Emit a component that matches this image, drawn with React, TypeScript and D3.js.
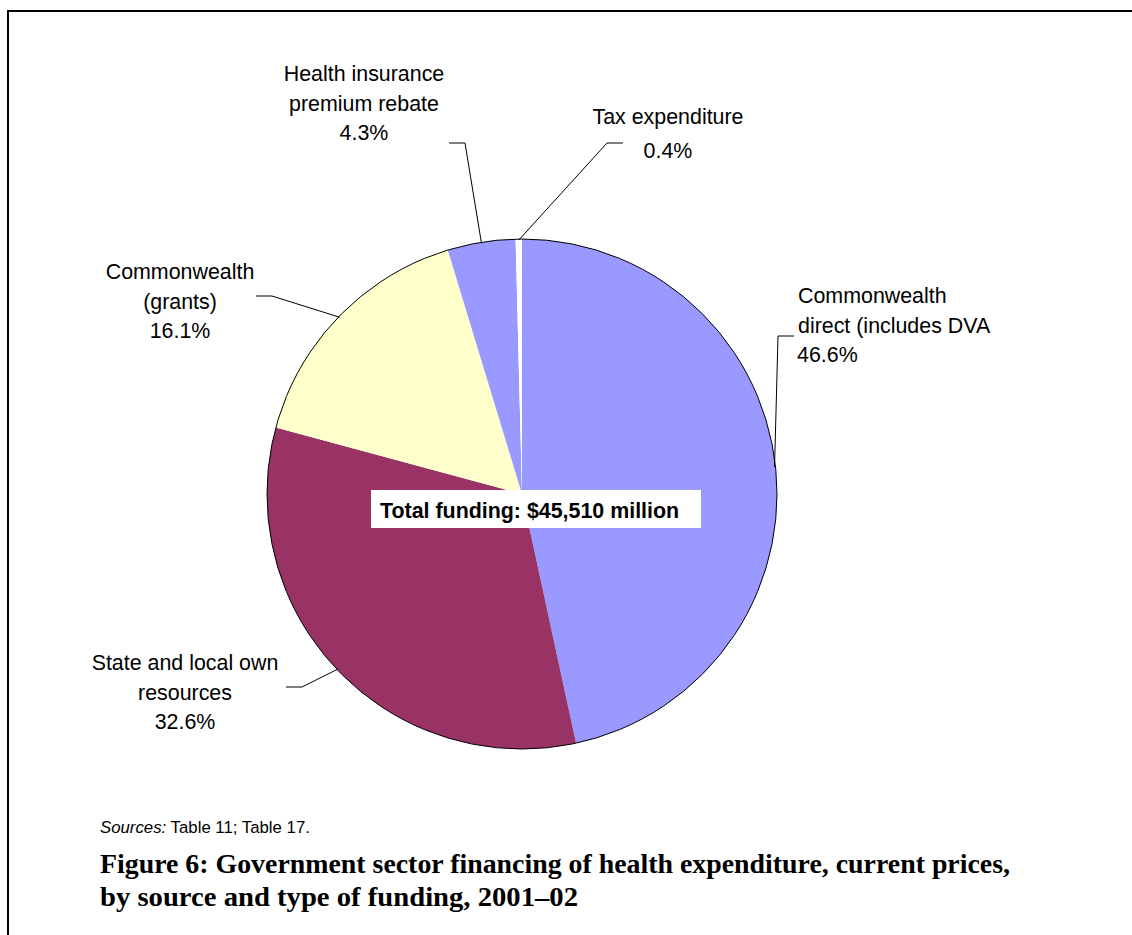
// Pie chart of government health funding by source, 2001-02
import React from 'react';
import * as d3 from 'd3';

const categories = [
  'Commonwealth direct (includes DVA',
  'State and local own resources',
  'Commonwealth (grants)',
  'Health insurance premium rebate',
  'Tax expenditure'
];
const shares = [46.6, 32.6, 16.1, 4.3, 0.4];
const sliceColors = ['#9999ff', '#993366', '#ffffcc', '#9999ff', '#ffffff'];
const labelLines = [
  ['Commonwealth', 'direct (includes DVA'],
  ['State and local own', 'resources'],
  ['Commonwealth', '(grants)'],
  ['Health insurance', 'premium rebate'],
  ['Tax expenditure']
];
const totalLabel = 'Total funding: $45,510 million';

// where each label sits (x, first baseline, anchor) and its leader elbow
const labelLayout = [
  { x: 798, y: 303, anchor: 'start', elbow: [778, 336], tail: 794 },
  { x: 185, y: 670, anchor: 'middle', elbow: [302, 687], tail: 286 },
  { x: 180, y: 279, anchor: 'middle', elbow: [272, 296], tail: 256 },
  { x: 364, y: 81, anchor: 'middle', elbow: [465, 143], tail: 449 },
  { x: 668, y: 124, anchor: 'middle', elbow: [607, 143], tail: 623 }
];

export default function App() {
  const width = 1132, height = 935;
  const cx = 522, cy = 494, r = 255;
  const font = 'Liberation Sans, Arial, sans-serif';

  const data = categories.map((c, i) => ({ name: c, value: shares[i], i }));
  const pieFn = d3.pie<any>().sort(null).value(d => d.value);
  const arcs = pieFn(data);
  const arcFn = d3.arc<any>().innerRadius(0).outerRadius(r);
  const fmt = d3.format('.1f');

  return (
    <div style={{ position: 'absolute', left: 0, top: 0 }}>
      <svg width={width} height={height} style={{ display: 'block', background: '#fff' }}>
        <path d={`M8,${height} V11 H${width}`} fill="none" stroke="#000" strokeWidth={2} />
        <g transform={`translate(${cx},${cy})`}>
          {arcs.map((a, i) => (
            <path key={i} d={arcFn(a) || ''} fill={sliceColors[i]} />
          ))}
          <circle r={r} fill="none" stroke="#000" strokeWidth={1} />
        </g>
        {arcs.map((a, i) => {
          const L = labelLayout[i];
          const mid = (a.startAngle + a.endAngle) / 2;
          const px = cx + (r - 1) * Math.sin(mid);
          const py = cy - (r - 1) * Math.cos(mid);
          const lines = [...labelLines[i], fmt(a.data.value) + '%'];
          const gap = i === 4 ? 34 : 29.5;
          return (
            <g key={i}>
              <polyline
                points={`${L.tail},${L.elbow[1]} ${L.elbow[0]},${L.elbow[1]} ${px},${py}`}
                fill="none" stroke="#000" strokeWidth={1} />
              <text fontFamily={font} fontSize={21.4} textAnchor={L.anchor} fill="#000">
                {lines.map((t, j) => (
                  <tspan key={j} x={L.x - (j === lines.length - 1 && L.anchor === 'start' ? 1 : 0)} y={L.y + j * gap}>{t}</tspan>
                ))}
              </text>
            </g>
          );
        })}
        <rect x={371} y={490} width={330} height={38} fill="#fff" />
        <text x={380} y={518} fontFamily={font} fontSize={21.4} fontWeight="bold">{totalLabel}</text>
        <text x={100} y={833} fontFamily={font} fontSize={16.8}>
          <tspan fontStyle="italic">Sources:</tspan> Table 11; Table 17.
        </text>
        <text fontFamily="Liberation Serif, 'Times New Roman', serif" fontSize={27} fontWeight="bold" lengthAdjust="spacingAndGlyphs">
          <tspan x={100} y={873} textLength={910} lengthAdjust="spacingAndGlyphs">Figure 6: Government sector financing of health expenditure, current prices,</tspan>
        </text>
        <text fontFamily="Liberation Serif, 'Times New Roman', serif" fontSize={27} fontWeight="bold">
          <tspan x={100} y={906} textLength={478} lengthAdjust="spacingAndGlyphs">by source and type of funding, 2001–02</tspan>
        </text>
      </svg>
    </div>
  );
}
